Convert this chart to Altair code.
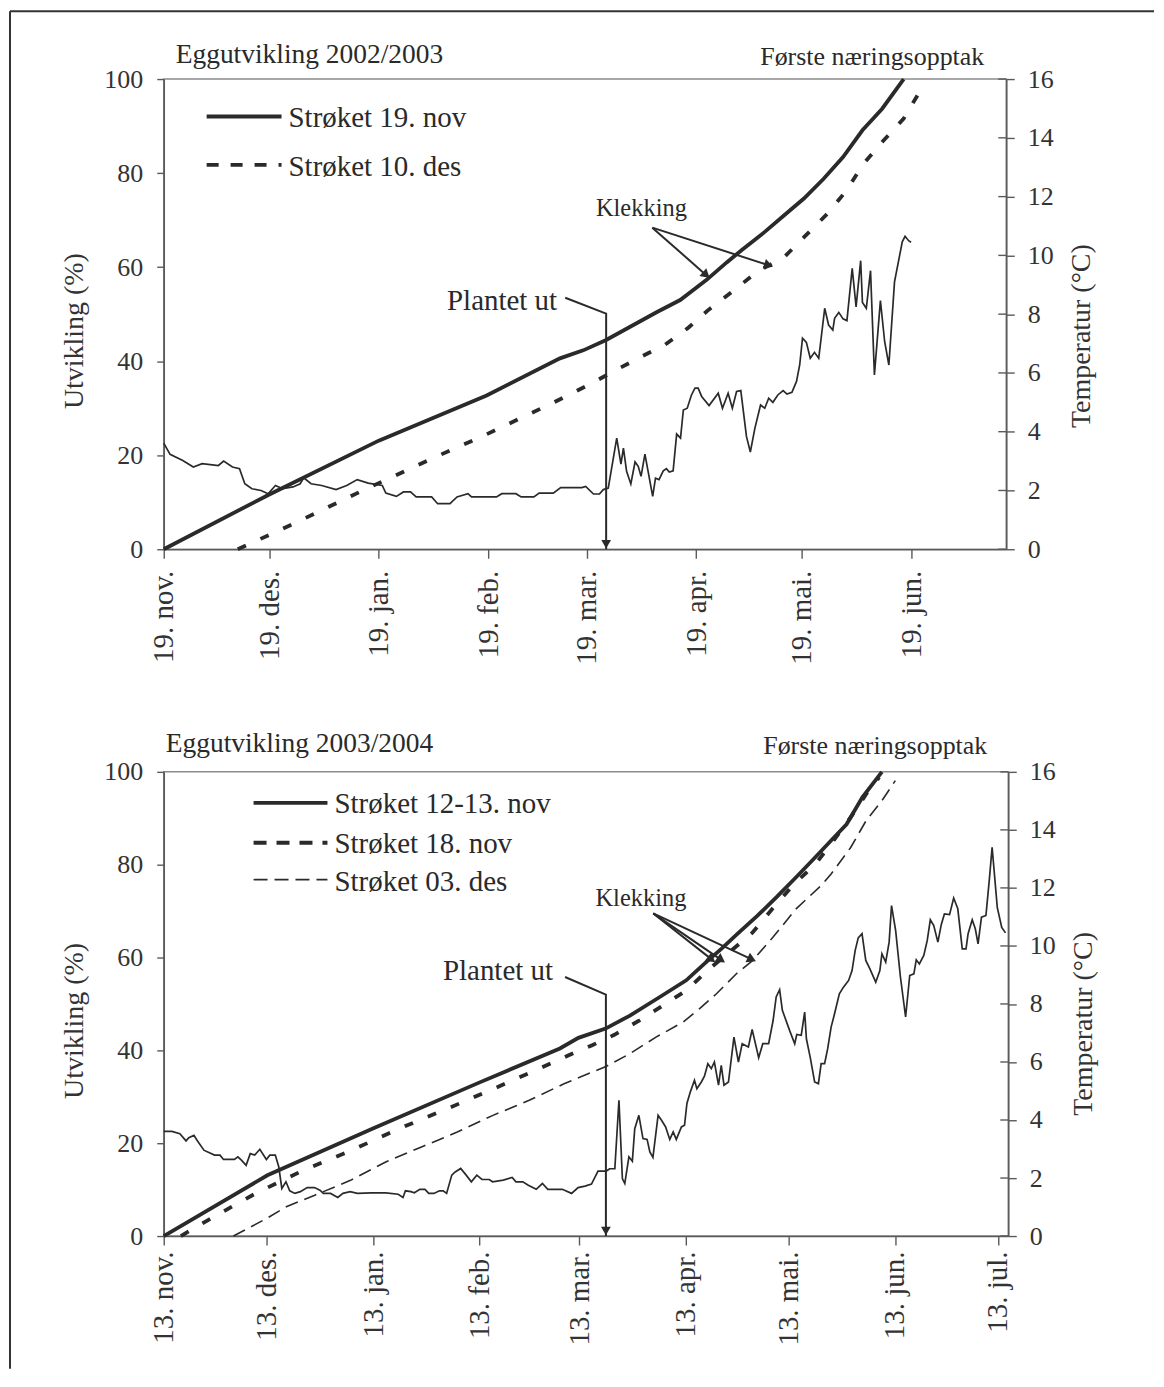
import altair as alt
import pandas as pd
from datetime import datetime, timedelta, timezone

# ---------------------------------------------------------------- texts
MONTHS_NO = ["jan", "feb", "mar", "apr", "mai", "jun", "jul", "aug", "sep", "okt", "nov", "des"]
TOP_TITLE = "Eggutvikling 2002/2003"
BOT_TITLE = "Eggutvikling 2003/2004"
CORNER_NOTE = "Første næringsopptak"
Y_LEFT_TITLE = "Utvikling (%)"
Y_RIGHT_TITLE = "Temperatur (°C)"
PLANTED = "Plantet ut"
HATCH = "Klekking"

PCT_TICKS = [0, 20, 40, 60, 80, 100]
TEMP_TICKS = [0, 2, 4, 6, 8, 10, 12, 14, 16]

# ---------------------------------------------------------------- panel 1 (days from 19 Nov 2002)
TOP_START = (2002, 11, 19)
TOP_END_DAY = 239
TOP_TICKS = [(2002, 11, 19), (2002, 12, 19), (2003, 1, 19), (2003, 2, 19),
             (2003, 3, 19), (2003, 4, 19), (2003, 5, 19), (2003, 6, 19)]
TOP_SERIES = ["Strøket 19. nov", "Strøket 10. des"]
TOP_S1 = [(0, 0), (29.8, 11.6), (61, 23.1), (91.6, 32.7), (112.4, 40.6), (119, 42.3),
          (125.5, 44.5), (139.8, 50.4), (146.5, 53.0), (154, 57.3), (159.7, 61.0),
          (163.9, 63.6), (170.5, 67.5), (176.1, 71.1), (181.6, 74.6), (187.2, 78.8),
          (192.7, 83.4), (198.2, 89.1), (203.8, 93.7), (209.9, 100)]
TOP_S2 = [(21, 0), (36.2, 5.2), (55.9, 12.3), (76.7, 19.5), (90.3, 24.0), (110.6, 31.2),
          (121.4, 35.3), (128.5, 38.2), (135.6, 41.0), (142.2, 43.5), (148.8, 47.1),
          (154.5, 50.9), (161.5, 54.9), (168.1, 58.9), (176.1, 62.2), (182.2, 66.8),
          (188.3, 71.4), (193.8, 76.4), (198.2, 81.7), (203.8, 86.6), (209.9, 91.6),
          (214.5, 97.4)]
TOP_TEMP = [(0, 3.61), (1.8, 3.23), (5.4, 3.02), (8.4, 2.80), (10.9, 2.91), (15.5, 2.85),
            (17, 3.0), (19.5, 2.80), (21.5, 2.74), (23, 2.23), (25, 2.06), (27.6, 2.0),
            (29.6, 1.89), (31.7, 2.17), (33.7, 2.06), (36.7, 2.12), (38.7, 2.23), (39.7, 2.43),
            (41.8, 2.23), (44.8, 2.17), (48.9, 2.03), (51.9, 2.17), (54.9, 2.37), (58, 2.25),
            (62, 2.17), (63, 1.91), (66, 1.80), (68, 1.95), (70, 1.95), (71.6, 1.78),
            (76, 1.78), (77.7, 1.55), (81.2, 1.55), (83.2, 1.78), (86.3, 1.89), (87.3, 1.78),
            (94.4, 1.78), (95.9, 1.89), (99.9, 1.89), (101.4, 1.78), (105, 1.78), (106.5, 1.91),
            (110.5, 1.91), (112.6, 2.10), (118.6, 2.10), (119.7, 2.14), (121.9, 1.88),
            (123.6, 1.88), (124.7, 2.03), (126.1, 2.08), (128.5, 3.78), (129.7, 2.90),
            (130.4, 3.44), (131.3, 2.65), (132.5, 2.22), (133.7, 2.97), (134.6, 2.82),
            (135.4, 2.48), (136.5, 3.24), (137.4, 2.65), (138.7, 1.80), (139.5, 2.42),
            (140.5, 2.37), (141.7, 2.67), (142.6, 2.74), (143.4, 2.63), (144.5, 2.67),
            (145.5, 3.92), (146.6, 3.78), (147.4, 4.74), (148.5, 4.80), (149.7, 5.25),
            (150.7, 5.48), (151.6, 5.48), (152.6, 5.20), (154.7, 4.89), (157.3, 5.31),
            (158.5, 4.80), (160.1, 5.31), (161.3, 4.80), (162.5, 5.37), (163.7, 5.40),
            (165.3, 3.84), (166.4, 3.31), (167.7, 4.12), (169.3, 4.91), (170.5, 4.80),
            (171.6, 5.14), (172.8, 5.00), (174.2, 5.25), (175.7, 5.40), (176.8, 5.28),
            (178.2, 5.34), (179.5, 5.71), (180.4, 6.27), (181.2, 7.18), (182.3, 7.04),
            (183.4, 6.50), (184.6, 6.70), (185.8, 6.50), (187.5, 8.20), (188.6, 7.63),
            (189.8, 7.46), (190.3, 7.86), (191.5, 8.06), (192.7, 7.84), (193.8, 7.78),
            (195.3, 9.56), (196.4, 8.25), (197.7, 9.82), (198.2, 8.40), (199.3, 8.20),
            (200.5, 9.48), (201.6, 5.93), (203.3, 8.46), (204.5, 7.07), (205.7, 6.27),
            (207.3, 9.10), (209.5, 10.46), (210.3, 10.65), (211.3, 10.50), (212, 10.45)]
# annotation anchors (day, %)
TOP_PLANT_PATH = [(113.9, 53.5), (125.5, 50.1), (125.5, 0)]
TOP_PLANT_TEXT = (111.6, 52.7)
TOP_HATCH_TEXT = (135.5, 72.4)
TOP_HATCH_FROM = (138.6, 68.4)
TOP_HATCH_TO = [(153.9, 58.3, 131), (171.6, 60.4, 108)]

# ---------------------------------------------------------------- panel 2 (days from 13 Nov 2003)
BOT_START = (2003, 11, 13)
BOT_END_DAY = 246
BOT_TICKS = [(2003, 11, 13), (2003, 12, 13), (2004, 1, 13), (2004, 2, 13), (2004, 3, 13),
             (2004, 4, 13), (2004, 5, 13), (2004, 6, 13), (2004, 7, 13)]
BOT_SERIES = ["Strøket 12-13. nov", "Strøket 18. nov", "Strøket 03. des"]
BOT_S1 = [(0, 0), (30.2, 13.1), (61.1, 23.2), (91.7, 33.0), (115.4, 40.4), (120.8, 42.7),
          (128.7, 44.7), (135.8, 47.5), (144.5, 51.5), (152.2, 55.1), (158, 59.0),
          (162.5, 61.9), (167.1, 65.1), (172.8, 68.9), (178.5, 73.0), (184.2, 77.3),
          (189.8, 81.6), (194.4, 85.2), (198.9, 88.7), (203.5, 94.5), (209.2, 100)]
BOT_S2 = [(5, 0), (12.8, 3.4), (26.8, 9.2), (40.8, 14.2), (54.8, 18.5), (68.8, 23.2),
          (82.8, 27.5), (96.3, 31.8), (110.4, 36.4), (117.8, 38.9), (124.8, 41.1),
          (131.4, 43.4), (138.7, 46.5), (145.5, 49.7), (152.2, 52.9), (159, 57.6),
          (165.3, 61.5), (171.4, 65.3), (177.3, 70.5), (183.6, 75.8), (189.8, 80.1),
          (194.4, 84.5), (200.1, 90.2), (204.6, 95.2), (208.4, 98.8)]
BOT_S3 = [(20.3, 0), (30, 3.8), (35.7, 6.3), (44, 8.8), (54.4, 12.0), (64.8, 16.0),
          (75.1, 19.2), (85.5, 22.4), (95.9, 26.0), (106.3, 29.2), (116.6, 32.8),
          (129, 36.6), (135.8, 39.3), (143.5, 42.9), (151.3, 46.1), (156.1, 49.0),
          (161, 52.2), (166.8, 56.5), (171.6, 59.4), (177.5, 64.4), (184.2, 70.5),
          (191.5, 75.5), (194.4, 78.0), (200.1, 83.7), (204.6, 89.5), (209.2, 93.8),
          (213.1, 98.1)]
BOT_TEMP = [(0, 3.61), (2.4, 3.61), (4.7, 3.53), (6.5, 3.28), (7.3, 3.39), (8.8, 3.47),
            (9.7, 3.30), (11.7, 2.96), (13.3, 2.87), (14.8, 2.79), (16.4, 2.79), (17.4, 2.64),
            (20.6, 2.64), (21.6, 2.73), (22.7, 2.61), (24, 2.44), (25.2, 2.84), (26.5, 2.79),
            (28, 2.99), (29.9, 2.64), (30.9, 2.79), (32.5, 2.79), (33.5, 2.39), (34.4, 1.64),
            (35.6, 1.87), (36.7, 1.56), (38.2, 1.47), (39.8, 1.53), (41.8, 1.67), (43.9, 1.67),
            (45.5, 1.58), (46.5, 1.47), (48.6, 1.47), (50.7, 1.33), (52.2, 1.47), (54.3, 1.53),
            (56.4, 1.47), (60.5, 1.49), (64.7, 1.49), (68.3, 1.44), (69.7, 1.33), (70.4, 1.56),
            (72, 1.53), (73, 1.49), (74.6, 1.61), (76.1, 1.61), (77.2, 1.47), (78.7, 1.47),
            (80.3, 1.56), (81.4, 1.56), (82.4, 1.47), (83.9, 2.10), (84.9, 2.21), (86.5, 2.33),
            (88.1, 2.10), (89.6, 1.87), (91.2, 2.10), (92.7, 1.95), (94.8, 1.95), (95.8, 1.87),
            (98.9, 1.93), (101.5, 2.02), (102.6, 1.87), (104.6, 1.87), (106.2, 1.75),
            (108.5, 1.61), (110.3, 1.81), (111.9, 1.61), (116.1, 1.61), (118.8, 1.47),
            (120.7, 1.67), (122.7, 1.72), (124.6, 1.79), (126.5, 2.24), (128.9, 2.24),
            (129.9, 2.32), (131.4, 2.32), (132.6, 4.68), (133.6, 1.98), (134.3, 1.81),
            (135.5, 2.73), (136.5, 2.58), (137.2, 3.70), (138.4, 4.16), (139.6, 3.36),
            (140.8, 3.33), (141.6, 2.90), (142.5, 2.71), (144, 4.16), (145, 3.99),
            (146.2, 3.76), (147.4, 3.33), (148.4, 3.59), (149.3, 3.33), (150.8, 3.76),
            (151.7, 3.82), (152.4, 4.57), (153.4, 4.97), (154.6, 5.37), (155.3, 5.08),
            (156.6, 5.31), (157.5, 5.51), (158.5, 5.94), (159.5, 5.77), (160.4, 6.00),
            (161.6, 5.20), (162.4, 5.88), (163.2, 5.20), (164.5, 5.31), (166.1, 6.86),
            (167.4, 6.00), (168.5, 6.63), (170.3, 6.52), (171.4, 7.12), (173.3, 6.15),
            (174.5, 6.63), (176.2, 6.63), (177.5, 7.43), (178.4, 8.24), (179.4, 8.49),
            (180.2, 7.78), (182.3, 7.09), (183.8, 6.63), (184.4, 6.95), (185.7, 6.92),
            (186.7, 7.72), (187.2, 6.80), (188.3, 6.17), (189.6, 5.31), (190.7, 5.25),
            (191.5, 5.94), (192.5, 5.94), (193.4, 6.46), (194.4, 7.20), (195.4, 7.66),
            (196.8, 8.35), (198, 8.58), (199.5, 8.81), (200.5, 9.15), (201.4, 9.84),
            (202.3, 10.28), (203.4, 10.42), (204.5, 9.50), (205.7, 9.21), (207.4, 8.75),
            (208.6, 9.15), (209.2, 9.73), (210.3, 9.44), (211.3, 10.13), (212, 11.39),
            (213.2, 10.53), (214.6, 8.92), (216.1, 7.55), (217.3, 8.98), (218.5, 9.04),
            (219.2, 9.52), (220.1, 9.38), (221.4, 9.67), (222.4, 10.19), (223.3, 10.90),
            (224.3, 10.70), (225.5, 10.13), (226.5, 10.74), (227.4, 11.10), (228.9, 11.08),
            (230.1, 11.65), (231.3, 11.28), (232.6, 9.90), (233.7, 9.90), (234.3, 10.42),
            (235.5, 10.90), (236.4, 10.59), (237.2, 10.07), (238.2, 10.99), (239.5, 11.05),
            (240.5, 12.3), (241.3, 13.4), (242.8, 11.33), (244.1, 10.64), (245.2, 10.45)]
BOT_PLANT_PATH = [(116.9, 55.8), (128.8, 52.0), (128.8, 0)]
BOT_PLANT_TEXT = (113.4, 57.0)
BOT_HATCH_TEXT = (139.0, 72.7)
BOT_HATCH_FROM = (142.6, 69.5)
BOT_HATCH_TO = [(159.6, 59.6, 128), (162.4, 59.5, 124), (171.3, 59.6, 115)]

# ---------------------------------------------------------------- styling
FONT = "Liberation Serif"
INK = "#2a2a2a"
AX = "#5a5a5a"
LABEL_EXPR = ("utcFormat(datum.value, '%d') + '. ' + ["
              + ",".join("'%s'" % m for m in MONTHS_NO)
              + "][utcmonth(datum.value)] + '.'")


def to_ms(start, day):
    t = datetime(*start, tzinfo=timezone.utc) + timedelta(days=day)
    return int(round(t.timestamp() * 1000))


def date_ms(d):
    return int(datetime(*d, tzinfo=timezone.utc).timestamp() * 1000)


def make_panel(start, end_day, ticks, series, curves, styles, temp, plant_path, plant_text,
               hatch_text, hatch_from, hatch_to, title, title_xy, note_xy, legend_rows,
               width, height, x_label_pad, title_y_left, title_y_right, frame=False):
    x_enc = alt.X(
        "t:T", title=None,
        scale=alt.Scale(type="utc", domain=[to_ms(start, 0), to_ms(start, end_day)]),
        axis=alt.Axis(values=[date_ms(d) for d in ticks], labelExpr=LABEL_EXPR,
                      labelAngle=-90, labelAlign="right", labelBaseline="middle",
                      labelFontSize=29, tickSize=9, labelPadding=x_label_pad,
                      labelFlush=False, labelOverlap=False, labelBound=False))
    y_dev = alt.Y(
        "v:Q", title=Y_LEFT_TITLE,
        scale=alt.Scale(domain=[0, 100], nice=False),
        axis=alt.Axis(values=PCT_TICKS, orient="left", tickSize=7, labelPadding=14,
                      labelFontSize=26, titleFontSize=28, titleAngle=270,
                      titleBaseline="alphabetic", titleAlign="center",
                      titleX=-81, titleY=title_y_left, labelOverlap=False))
    y_tmp = alt.Y(
        "temp:Q", title=Y_RIGHT_TITLE,
        scale=alt.Scale(domain=[0, 16], nice=False),
        axis=alt.Axis(values=TEMP_TICKS, orient="right", tickSize=8, labelPadding=13,
                      labelFontSize=26, titleFontSize=28, titleAngle=270,
                      titleBaseline="alphabetic", titleAlign="center",
                      titleX=83, titleY=title_y_right, labelOverlap=False))

    dev_layers = []
    # development curves
    for name, pts, st in zip(series, curves, styles):
        df = pd.DataFrame({"t": [to_ms(start, d) for d, _ in pts],
                           "v": [v for _, v in pts], "s": name})
        mk = dict(color=INK, strokeWidth=st["w"])
        if st.get("dash"):
            mk["strokeDash"] = st["dash"]
        dev_layers.append(alt.Chart(df).mark_line(**mk).encode(x=x_enc, y=y_dev))

    # legend (samples + names)
    for name, st, (lx1, lx2, ly, ty) in zip(series, styles, legend_rows):
        mk = dict(color=INK, strokeWidth=st["w"])
        if st.get("ldash"):
            mk["strokeDash"] = st["ldash"]
        dev_layers.append(
            alt.Chart(pd.DataFrame({"s": [name]})).mark_rule(**mk).encode(
                x=alt.value(lx1), x2=alt.value(lx2), y=alt.value(ly)))
        dev_layers.append(
            alt.Chart(pd.DataFrame({"s": [name]})).mark_text(
                align="left", baseline="middle", font=FONT, fontSize=29, color=INK).encode(
                text="s:N", x=alt.value(lx2 + 7), y=alt.value(ty)))

    # "Plantet ut" arrow
    pdf = pd.DataFrame({"t": [to_ms(start, d) for d, _ in plant_path],
                        "v": [v for _, v in plant_path], "o": list(range(len(plant_path)))})
    dev_layers.append(alt.Chart(pdf).mark_line(color=INK, strokeWidth=2).encode(
        x=x_enc, y=y_dev, order="o:Q"))
    tip = pdf.iloc[[-1]]
    dev_layers.append(alt.Chart(tip).mark_point(
        shape="triangle-down", filled=True, size=95, color=INK, opacity=1, yOffset=-5).encode(
        x=x_enc, y=y_dev))
    dev_layers.append(alt.Chart(pd.DataFrame({
        "t": [to_ms(start, plant_text[0])], "v": [plant_text[1]], "s": [PLANTED]})).mark_text(
        align="right", baseline="middle", font=FONT, fontSize=29, color=INK).encode(
        x=x_enc, y=y_dev, text="s:N"))

    # "Klekking" arrows
    hdf = pd.DataFrame({"t": [to_ms(start, hatch_from[0])] * len(hatch_to),
                        "v": [hatch_from[1]] * len(hatch_to),
                        "t2": [to_ms(start, d) for d, _, _ in hatch_to],
                        "v2": [v for _, v, _ in hatch_to],
                        "a": [a for _, _, a in hatch_to]})
    dev_layers.append(alt.Chart(hdf).mark_rule(color=INK, strokeWidth=2).encode(
        x=x_enc, y=y_dev, x2="t2:T", y2="v2:Q"))
    heads = pd.DataFrame({"t": hdf["t2"], "v": hdf["v2"], "a": hdf["a"]})
    dev_layers.append(alt.Chart(heads).mark_point(
        shape="triangle-up", filled=True, size=110, color=INK, opacity=1).encode(
        x=x_enc, y=y_dev, angle=alt.Angle("a:Q", scale=None)))
    dev_layers.append(alt.Chart(pd.DataFrame({
        "t": [to_ms(start, hatch_text[0])], "v": [hatch_text[1]], "s": [HATCH]})).mark_text(
        align="center", baseline="middle", font=FONT, fontSize=24.5, color=INK).encode(
        x=x_enc, y=y_dev, text="s:N"))

    # panel title and corner note
    dev_layers.append(alt.Chart(pd.DataFrame({"s": [title]})).mark_text(
        align="left", baseline="middle", font=FONT, fontSize=27.5, color=INK).encode(
        text="s:N", x=alt.value(title_xy[0]), y=alt.value(title_xy[1])))
    dev_layers.append(alt.Chart(pd.DataFrame({"s": [CORNER_NOTE]})).mark_text(
        align="right", baseline="middle", font=FONT, fontSize=26, color=INK).encode(
        text="s:N", x=alt.value(note_xy[0]), y=alt.value(note_xy[1])))

    if frame:
        fr = pd.DataFrame({"k": [0]})
        dev_layers.append(alt.Chart(fr).mark_rule(color="#333333", strokeWidth=2).encode(
            x=alt.value(-154), x2=alt.value(992), y=alt.value(-68)))
        dev_layers.append(alt.Chart(fr).mark_rule(color="#333333", strokeWidth=2).encode(
            x=alt.value(-154), y=alt.value(-68), y2=alt.value(1292)))

    tdf = pd.DataFrame({"t": [to_ms(start, d) for d, _ in temp], "temp": [c for _, c in temp]})
    temp_line = alt.Chart(tdf).mark_line(color=INK, strokeWidth=1.7).encode(x=x_enc, y=y_tmp)
    inner_ticks = alt.Chart(pd.DataFrame({"temp": TEMP_TICKS})).mark_rule(
        color=AX, strokeWidth=1.4).encode(y=y_tmp, x=alt.value(width - 8), x2=alt.value(width))

    dev = alt.layer(*dev_layers)
    tmp = alt.layer(temp_line, inner_ticks)
    return alt.layer(dev, tmp).resolve_scale(y="independent").properties(
        width=width, height=height)


TOP_STYLES = [dict(w=3.8), dict(w=3.8, dash=[9, 16], ldash=[12, 12])]
BOT_STYLES = [dict(w=3.8), dict(w=3.8, dash=[9, 16], ldash=[13, 10]),
              dict(w=1.6, dash=[13, 7], ldash=[14, 7])]

top = make_panel(TOP_START, TOP_END_DAY, TOP_TICKS, TOP_SERIES, [TOP_S1, TOP_S2], TOP_STYLES,
                 TOP_TEMP, TOP_PLANT_PATH, TOP_PLANT_TEXT, TOP_HATCH_TEXT, TOP_HATCH_FROM,
                 TOP_HATCH_TO, TOP_TITLE, (12, -24), (822, -22),
                 [(43, 118, 37.5, 39), (43, 118, 86, 88)],
                 844, 471, 12, 252, 257, frame=True)
bottom = make_panel(BOT_START, BOT_END_DAY, BOT_TICKS, BOT_SERIES, [BOT_S1, BOT_S2, BOT_S3],
                    BOT_STYLES, BOT_TEMP, BOT_PLANT_PATH, BOT_PLANT_TEXT, BOT_HATCH_TEXT,
                    BOT_HATCH_FROM, BOT_HATCH_TO, BOT_TITLE, (2, -28), (825, -26),
                    [(90, 164, 31, 32), (90, 164, 71, 72), (90, 164, 108, 110)],
                    846, 465, 6, 249, 252)

chart = alt.vconcat(top, bottom, spacing=223, bounds="flush").properties(
    padding=0
).configure_view(
    stroke="#8c8c8c", strokeWidth=1.5
).configure_axis(
    grid=False, domainColor=AX, domainWidth=1.6, tickColor=AX, tickWidth=1.4,
    labelColor="#333333", titleColor="#333333", labelFont=FONT, titleFont=FONT,
    titleFontWeight="normal"
)

chart.save("out.html", embed_options={"renderer": "svg", "actions": False})
